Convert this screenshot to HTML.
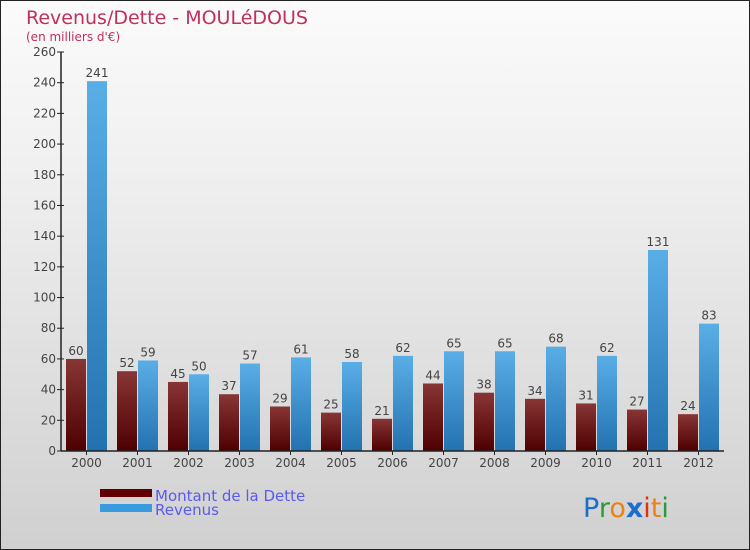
<!DOCTYPE html>
<html><head><meta charset="utf-8"><style>
body{margin:0;}
#c{position:relative;width:748px;height:548px;border:1px solid #222;background:linear-gradient(#fbfbfb,#f0f0f0 30%,#d0d0d0);overflow:hidden;font-family:"DejaVu Sans","Liberation Sans",sans-serif;}
</style></head><body>
<div id="c">
<svg width="748" height="548">
<defs>
<linearGradient id="gd" x1="0" y1="0" x2="0" y2="1"><stop offset="0" stop-color="#883535"/><stop offset="1" stop-color="#4e0000"/></linearGradient>
<linearGradient id="gr" x1="0" y1="0" x2="0" y2="1"><stop offset="0" stop-color="#5aaee6"/><stop offset="1" stop-color="#2272b0"/></linearGradient>
</defs>
<text x="25" y="23" font-size="19" fill="#c0305a">Revenus/Dette - MOULéDOUS</text>
<text x="25" y="40" font-size="12" fill="#c0305a">(en milliers d'€)</text>
<g id="plot"></g>
<rect x="99" y="488" width="52" height="8" fill="#600000"/>
<rect x="99" y="503" width="52" height="8" fill="#3a9ae0"/>
<text x="154" y="500" font-size="15" fill="#5a5af0">Montant de la Dette</text>
<text x="154" y="514" font-size="15" fill="#5a5af0">Revenus</text>
<text x="582" y="516" font-size="27" font-family="'DejaVu Sans',sans-serif"><tspan fill="#1a6fcc">P</tspan><tspan fill="#2a9a3a">r</tspan><tspan fill="#f08010">o</tspan><tspan fill="#1a6fcc" font-weight="bold">x</tspan><tspan fill="#e03010">i</tspan><tspan fill="#f08010">t</tspan><tspan fill="#2a9a3a">i</tspan></text>
</svg>
</div>
<script>
const years=["2000","2001","2002","2003","2004","2005","2006","2007","2008","2009","2010","2011","2012"];
const dette=[60,52,45,37,29,25,21,44,38,34,31,27,24];
const revenus=[241,59,50,57,61,58,62,65,65,68,62,131,83];
const ticks=[0,20,40,60,80,100,120,140,160,180,200,220,240,260];
const NS="http://www.w3.org/2000/svg";
const g=document.getElementById("plot");
const x0=60,y0=450,yTop=51,vmax=260,step=51;
const ys=v=>y0-v*(y0-yTop)/vmax;
const xs=i=>x0+i*step;
function mk(t,a){const e=document.createElementNS(NS,t);for(const k in a)e.setAttribute(k,a[k]);g.appendChild(e);return e;}
ticks.forEach(t=>{
 const l=mk("line",{x1:x0-4,x2:x0+3,y1:ys(t),y2:ys(t),stroke:"#222"});
 
 
 const tx=mk("text",{x:x0-5,y:ys(t)+4,"font-size":12,"text-anchor":"end",fill:"#444"});
 tx.textContent=t;
 
 
});
years.forEach((y,i)=>{
 const bx=xs(i);
 const d=mk("rect",{x:bx+5,y:ys(dette[i]),width:20,height:y0-ys(dette[i]),fill:"url(#gd)"});
 
 
 const r=mk("rect",{x:bx+26,y:ys(revenus[i]),width:20,height:y0-ys(revenus[i]),fill:"url(#gr)"});
 
 
 const dl=mk("text",{x:bx+15,y:ys(dette[i])-4,"font-size":12,"text-anchor":"middle",fill:"#444"});
 dl.textContent=dette[i];
 
 
 const rl=mk("text",{x:bx+36,y:ys(revenus[i])-4,"font-size":12,"text-anchor":"middle",fill:"#444"});
 rl.textContent=revenus[i];
 
 
 const tk=mk("line",{x1:bx+25.5,x2:bx+25.5,y1:y0,y2:y0+4,stroke:"#222"});
 
 
 const xl=mk("text",{x:bx+25.5,y:y0+16,"font-size":12,"text-anchor":"middle",fill:"#444"});
 xl.textContent=y;
 
 
});
const ya=mk("line",{x1:x0,x2:x0,y1:yTop,y2:y0,stroke:"#222","stroke-width":1.5});


const xa=mk("line",{x1:x0,x2:x0+years.length*step,y1:y0,y2:y0,stroke:"#222","stroke-width":1.5});


</script>
</body></html>
